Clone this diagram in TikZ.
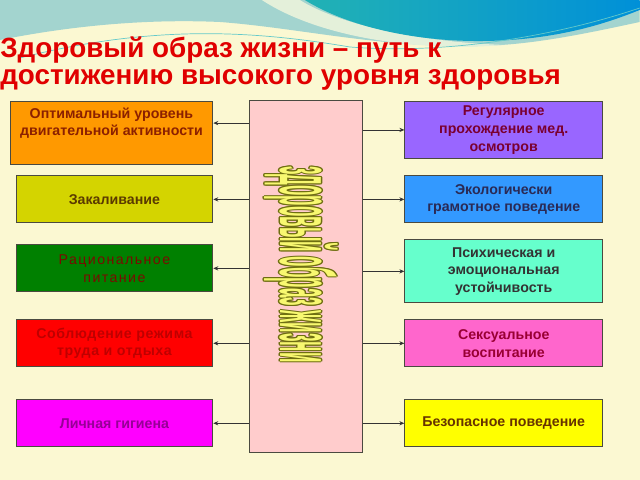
\documentclass[tikz,border=0pt]{standalone}
\usepackage{fontspec}
\setmainfont{Liberation Sans}
\usetikzlibrary{arrows.meta}

\definecolor{cream}{HTML}{FBF8D2}
\definecolor{paleteal}{HTML}{A3D4CF}
\definecolor{paleband}{HTML}{E4F0DA}
\definecolor{waveteal}{HTML}{22B2B4}
\definecolor{waveblue}{HTML}{0090D8}
\definecolor{titlered}{HTML}{E00000}
\definecolor{boxline}{HTML}{4A4A40}
\definecolor{linkgray}{HTML}{333333}
\definecolor{hubpink}{HTML}{FFCCCC}
\definecolor{artfill}{HTML}{F8F870}
\definecolor{artline}{HTML}{6E6E10}

% yellow letters with an olive rim (copies shifted round the text)
\newcommand{\wordart}[1]{\leavevmode
  \rlap{\color{artline}\kern-3.2pt#1}\rlap{\color{artline}\kern3.2pt#1}%
  \rlap{\color{artline}\raise1pt\hbox{#1}}\rlap{\color{artline}\lower1pt\hbox{#1}}%
  \rlap{\color{artline}\kern-2.3pt\raise0.7pt\hbox{#1}}\rlap{\color{artline}\kern2.3pt\raise0.7pt\hbox{#1}}%
  \rlap{\color{artline}\kern-2.3pt\lower0.7pt\hbox{#1}}\rlap{\color{artline}\kern2.3pt\lower0.7pt\hbox{#1}}%
  {\color{artfill}#1}}

\begin{document}
\begin{tikzpicture}[x=0.025cm, y=-0.025cm,
    >={Stealth[length=3.5pt,width=3pt]},
    box/.style={draw=boxline, line width=0.6pt, inner sep=0pt, align=center,
      font=\bfseries\fontsize{10.1}{12.6}\selectfont},
    lbox/.style={box, minimum width=4.925cm, minimum height=1.175cm},
    rbox/.style={box, minimum width=4.95cm, minimum height=1.175cm},
    link/.style={draw=linkgray, line width=0.5pt}]
    % background and the wave at the top
    \fill[cream] (0,0) rectangle (640,480);
    \fill[paleteal] (0,0) -- (640,0) -- (640,22) .. controls (580,35) and (530,45) .. (480,46)
      .. controls (380,48) and (300,28) .. (220,22) .. controls (130,18) and (50,30) .. (0,40) -- cycle;
    \fill[paleband] (262,0) .. controls (320,38) and (420,52) .. (505,45)
      .. controls (420,42) and (340,25) .. (300,0) -- cycle;
    \shade[left color=waveteal, right color=waveblue] (305,0) .. controls (350,28) and (420,42) .. (485,41)
      .. controls (560,40) and (610,22) .. (640,10) -- (640,0) -- cycle;
    \draw[waveteal!70, line width=0.5pt] (20,58) .. controls (150,25) and (250,30) .. (350,47)
      .. controls (450,55) and (560,35) .. (640,8);

    \node[anchor=north west, inner sep=0pt, align=left, text=titlered,
      font=\bfseries\fontsize{19.8}{19.2}\selectfont] (title) at (0,37)
      {Здоровый образ жизни – путь к\\достижению высокого уровня здоровья};

    % left column
    \node[box, fill={rgb,255:red,255;green,153;blue,0}, text={rgb,255:red,139;green,32;blue,0},
      minimum width=5.075cm, minimum height=1.6cm, text depth=16pt] (opt) at (111.5,133)
      {Оптимальный уровень\\двигательной активности};
    \node[lbox, fill={rgb,255:red,212;green,212;blue,0}, text={rgb,255:red,90;green,58;blue,0}] (zak) at (114.5,199.5) {Закаливание};
    \node[lbox, fill={rgb,255:red,0;green,128;blue,0}, text={rgb,255:red,122;green,10;blue,0},
      font=\fontsize{10.1}{12.6}\selectfont\addfontfeature{LetterSpace=10}] (rac) at (114.5,268.5) {Рациональное\\питание};
    \node[lbox, fill={rgb,255:red,255;green,0;blue,0}, text={rgb,255:red,190;green,0;blue,0},
      font=\bfseries\fontsize{10.1}{12.6}\selectfont\addfontfeature{LetterSpace=4}] (rezh) at (114.5,343.5) {Соблюдение режима\\труда и отдыха};
    \node[lbox, fill={rgb,255:red,255;green,0;blue,255}, text={rgb,255:red,150;green,0;blue,150}] (lich) at (114.5,423.5) {Личная гигиена};

    % the middle box
    \node[draw=boxline, line width=0.6pt, fill=hubpink, minimum width=2.825cm, minimum height=8.8cm] (hub) at (306.5,277) {};
    \node[rotate=-90, inner sep=0pt] (motto) at (301,264.5)
      {\scalebox{0.22}[1]{\fontsize{55}{55}\selectfont\bfseries\wordart{здоровый образ жизни}}};

    % right column
    \node[rbox, fill={rgb,255:red,153;green,102;blue,255}, text={rgb,255:red,122;green,0;blue,48},
      minimum height=1.45cm] (med) at (504,130) {Регулярное\\прохождение мед.\\осмотров};
    \node[rbox, fill={rgb,255:red,51;green,153;blue,255}, text={rgb,255:red,42;green,42;blue,85}] (eco) at (504,199.5) {Экологически\\грамотное поведение};
    \node[rbox, fill={rgb,255:red,102;green,255;blue,204}, text={rgb,255:red,51;green,51;blue,51},
      minimum height=1.575cm] (psy) at (504,271.5) {Психическая и\\эмоциональная\\устойчивость};
    \node[rbox, fill={rgb,255:red,255;green,102;blue,204}, text={rgb,255:red,153;green,0;blue,51}] (sex) at (504,343.5) {Сексуальное\\воспитание};
    \node[rbox, fill={rgb,255:red,255;green,255;blue,0}, text={rgb,255:red,102;green,51;blue,0}] (safe) at (504,423.5) {Безопасное поведение};

    % links
    \draw[link,<-] ([yshift=7pt]opt.east) -- ([yshift=7pt]opt.east -| hub.west);
    \foreach \n in {zak,rac,rezh,lich}
      \draw[link,<-] (\n.east) -- (\n.east -| hub.west);
    \foreach \n in {med,eco,psy,sex,safe}
      \draw[link,->] (hub.east |- \n.west) -- (\n.west);
\end{tikzpicture}
\end{document}
